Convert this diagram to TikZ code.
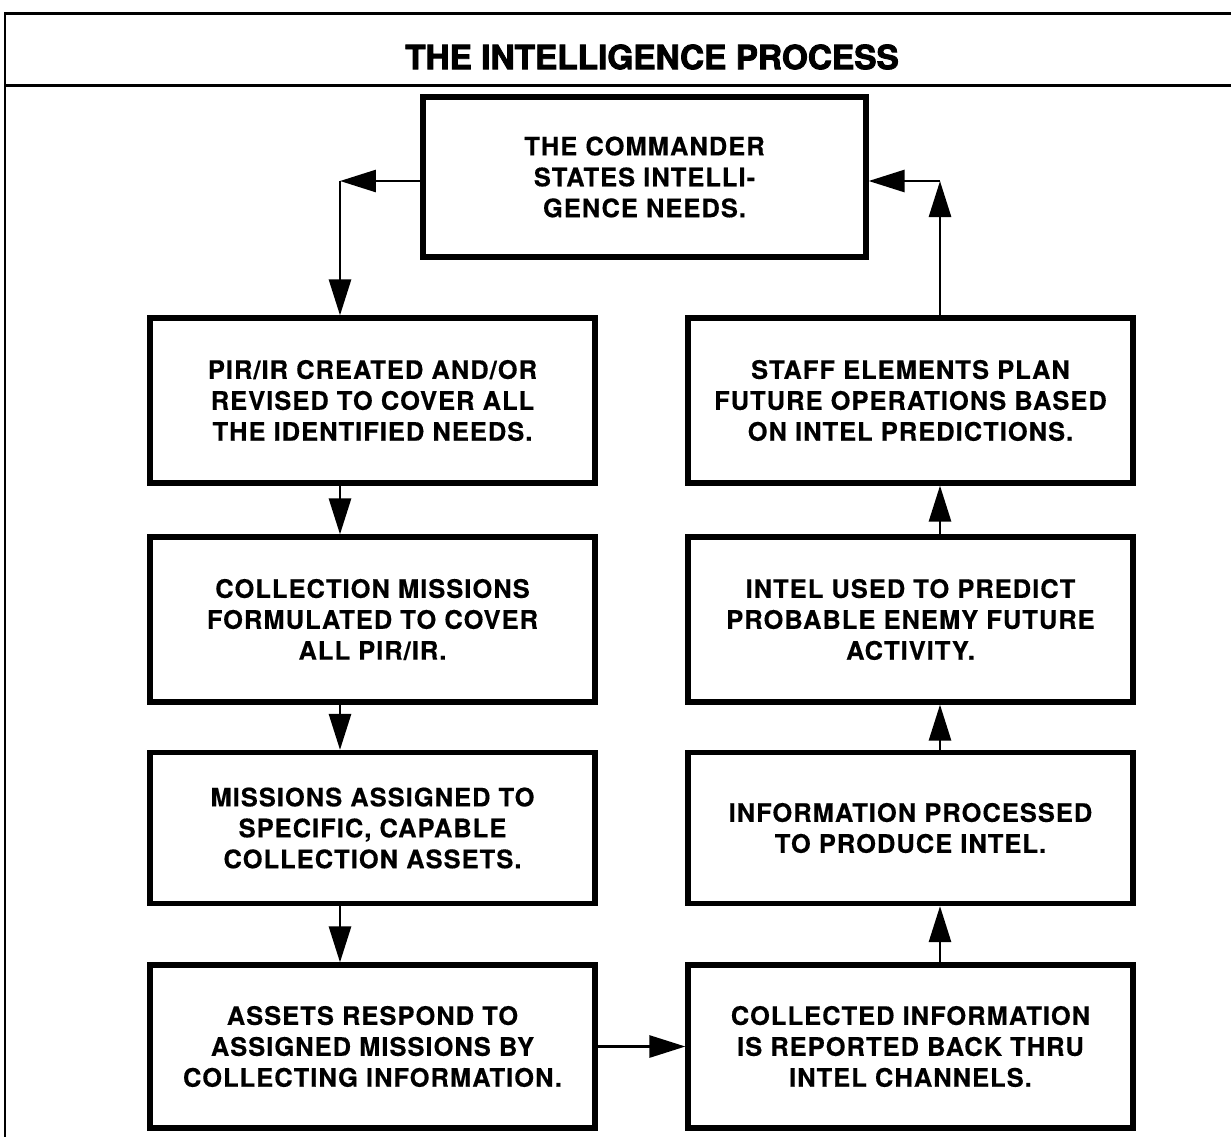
\documentclass[tikz,border=0pt]{standalone}
\usepackage{fontspec}
\setmainfont{TeX Gyre Heros}
\newfontfamily\boxfont{texgyreheros-bold.otf}[LetterSpace=4, FakeBold=0.4]
\newfontfamily\titlefont{texgyreheros-bold.otf}[FakeBold=2.5]
\usepackage{tikz}
\usetikzlibrary{arrows.meta, positioning, calc}

\tikzset{
  stepbox/.style={draw, line width=3pt, align=center, inner sep=0pt,
    minimum width=8.9cm, minimum height=3.3cm,
    font=\boxfont\fontsize{14.5pt}{17.6pt}\selectfont},
  flow/.style={line width=1.6pt, -{Triangle[length=0.72cm, width=0.44cm]}},
  frame/.style={line width=1.7pt}
}

\begin{document}
\begin{tikzpicture}[x=0.02cm, y=-0.02cm]
    \useasboundingbox (0,0) rectangle (1231,1137);

    % Rahmen und Titel
    \draw[frame] (1231,13) -- (5,13) -- (5,1137);
    \draw[frame] (5,85) -- (1231,85);
    \node[font=\titlefont\fontsize{19pt}{22pt}\selectfont] (title) at (652,57) {THE INTELLIGENCE PROCESS};

    % Kommandeur
    \node[stepbox, minimum width=8.86cm, minimum height=3.2cm] (cmd) at (644.5,177)
        {THE COMMANDER\\STATES INTELLI-\\GENCE NEEDS.};

    % linke Spalte
    \node[stepbox] (pir) at (372.5,400.5)
        {PIR/IR CREATED AND/OR\\REVISED TO COVER ALL\\THE IDENTIFIED NEEDS.};
    \node[stepbox] (coll) at (372.5,619.5)
        {COLLECTION MISSIONS\\FORMULATED TO COVER\\ALL PIR/IR.};
    \node[stepbox, minimum height=3.02cm] (assign) at (372.5,828)
        {MISSIONS ASSIGNED TO\\SPECIFIC, CAPABLE\\COLLECTION ASSETS.};
    \node[stepbox, minimum height=3.26cm] (assets) at (372.5,1046.5)
        {ASSETS RESPOND TO\\ASSIGNED MISSIONS BY\\COLLECTING INFORMATION.};

    % rechte Spalte
    \node[stepbox] (staff) at (910.5,400.5)
        {STAFF ELEMENTS PLAN\\FUTURE OPERATIONS BASED\\ON INTEL PREDICTIONS.};
    \node[stepbox] (pred) at (910.5,619.5)
        {INTEL USED TO PREDICT\\PROBABLE ENEMY FUTURE\\ACTIVITY.};
    \node[stepbox, minimum height=3.02cm] (proc) at (910.5,828)
        {INFORMATION PROCESSED\\TO PRODUCE INTEL.};
    \node[stepbox, minimum height=3.26cm] (report) at (910.5,1046.5)
        {COLLECTED INFORMATION\\IS REPORTED BACK THRU\\INTEL CHANNELS.};

    % Ecken
    \coordinate (cl) at (340,181);
    \coordinate (cr) at (940,181);

    % Pfeile links
    \draw[flow] (cl -| cmd.west) -- (cl);
    \draw[flow] (cl) -- (cl |- pir.north);
    \draw[flow] (cl |- pir.south) -- (cl |- coll.north);
    \draw[flow] (cl |- coll.south) -- (cl |- assign.north);
    \draw[flow] (cl |- assign.south) -- (cl |- assets.north);

    % unten
    \draw[flow] (assets.east) -- (report.west);

    % Pfeile rechts
    \draw[flow] (cr |- report.north) -- (cr |- proc.south);
    \draw[flow] (cr |- proc.north) -- (cr |- pred.south);
    \draw[flow] (cr |- pred.north) -- (cr |- staff.south);
    \draw[flow] (cr |- staff.north) -- (cr);
    \draw[flow] (cr) -- (cr -| cmd.east);
\end{tikzpicture}
\end{document}
